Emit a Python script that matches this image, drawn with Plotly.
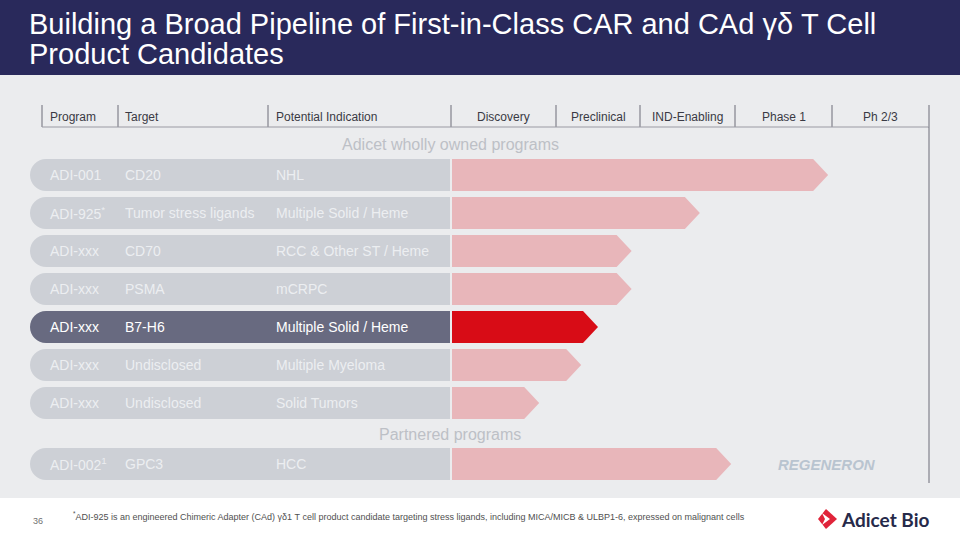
import numpy as np
import plotly.graph_objects as go

# ---------------- data ----------------
title_lines = ["Building a Broad Pipeline of First-in-Class CAR and CAd γδ T Cell",
               "Product Candidates"]
header_left = ["Program", "Target", "Potential Indication"]
stages = ["Discovery", "Preclinical", "IND-Enabling", "Phase 1", "Ph 2/3"]

programs = ["ADI-001", "ADI-925<sup>*</sup>", "ADI-xxx", "ADI-xxx", "ADI-xxx", "ADI-xxx", "ADI-xxx"]
targets = ["CD20", "Tumor stress ligands", "CD70", "PSMA", "B7-H6", "Undisclosed", "Undisclosed"]
indications = ["NHL", "Multiple Solid / Heme", "RCC & Other ST / Heme", "mCRPC",
               "Multiple Solid / Heme", "Multiple Myeloma", "Solid Tumors"]
progress = [3.96, 2.63, 1.90, 1.90, 1.50, 1.30, 0.84]   # in stage units (0 = start of Discovery)
highlight = [False, False, False, False, True, False, False]

partner_program = ["ADI-002<sup>1</sup>"]
partner_target = ["GPC3"]
partner_indication = ["HCC"]
partner_progress = [2.96]
partner_name = ["REGENERON"]

section_labels = ["Adicet wholly owned programs", "Partnered programs"]
footnote = ("<sup>*</sup>ADI-925 is an engineered Chimeric Adapter (CAd) γδ1 T cell product candidate "
            "targeting stress ligands, including MICA/MICB & ULBP1-6, expressed on malignant cells")
page_number = "36"
logo_text = "Adicet Bio"

# ---------------- layout constants ----------------
W, H = 960, 540
FONT = "Liberation Sans, Arial, sans-serif"
NAVY = "#29295b"
BG = "#ebecee"
PILL = "#cdd0d6"
PILL_HI = "#686a80"
PILL_TXT = "#eceef1"
ARROW = "#e8b6ba"
ARROW_HI = "#d80c16"

col_lines_x = [42, 118, 268, 451, 556, 640, 735, 832, 929]
stage_bounds = col_lines_x[3:]          # x of stage 0..5
text_x = [48, 123, 274]
row_y0 = 175
row_dy = 38
row_h = 32
pill_x0, pill_x1 = 30, 450
arrow_x0 = 452
tip_len = 15


def stage_to_x(s):
    return float(np.interp(s, np.arange(len(stage_bounds)), stage_bounds))


def pill_path(x0, x1, yc, h):
    r = h / 2
    k = 0.5523 * r
    cx = x0 + r
    return (f"M {x1},{yc - r} L {cx},{yc - r} "
            f"C {cx - k},{yc - r} {x0},{yc - k} {x0},{yc} "
            f"C {x0},{yc + k} {cx - k},{yc + r} {cx},{yc + r} "
            f"L {x1},{yc + r} Z")


def arrow_path(x0, xt, yc, h):
    r = h / 2
    return (f"M {x0},{yc - r} L {xt - tip_len:.1f},{yc - r} L {xt:.1f},{yc} "
            f"L {xt - tip_len:.1f},{yc + r} L {x0},{yc + r} Z")


shapes = []
ann = []

# backgrounds
shapes.append(dict(type="rect", x0=0, x1=W, y0=75, y1=498, fillcolor=BG, line_width=0, layer="below"))
shapes.append(dict(type="rect", x0=0, x1=W, y0=0, y1=75, fillcolor=NAVY, line_width=0, layer="below"))

# title
for i, t in enumerate(title_lines):
    ann.append(dict(x=27, y=24 + 30 * i, text=t, xanchor="left", yanchor="middle",
                    font=dict(family=FONT, size=29, color="white")))

# header lines
for x in col_lines_x:
    shapes.append(dict(type="line", x0=x, x1=x, y0=105, y1=127,
                       line=dict(color="#6d6d78", width=1)))
shapes.append(dict(type="line", x0=42, x1=929, y0=127, y1=127, line=dict(color="#9a9aa3", width=1)))
shapes.append(dict(type="line", x0=929, x1=929, y0=127, y1=483, line=dict(color="#6d6d78", width=1)))

for x, t in zip(text_x, header_left):
    ann.append(dict(x=x, y=117, text=t, xanchor="left", yanchor="middle",
                    font=dict(family=FONT, size=12, color="#3a3a44")))
for i, t in enumerate(stages):
    ann.append(dict(x=(stage_bounds[i] + stage_bounds[i + 1]) / 2, y=117, text=t,
                    xanchor="center", yanchor="middle",
                    font=dict(family=FONT, size=12, color="#3a3a44")))

# section labels
for y, t in zip([144, 434], section_labels):
    ann.append(dict(x=450, y=y, text=t, xanchor="center", yanchor="middle",
                    font=dict(family=FONT, size=16, color="#bdc0c6")))


def add_row(yc, prog, tgt, ind, pr, hi):
    shapes.append(dict(type="path", path=pill_path(pill_x0, pill_x1, yc, row_h),
                       fillcolor=PILL_HI if hi else PILL, line_width=0))
    shapes.append(dict(type="path", path=arrow_path(arrow_x0, stage_to_x(pr), yc, row_h),
                       fillcolor=ARROW_HI if hi else ARROW, line_width=0))
    for x, t in zip(text_x, [prog, tgt, ind]):
        ann.append(dict(x=x, y=yc, text=t, xanchor="left", yanchor="middle",
                        font=dict(family=FONT, size=14, color="white" if hi else PILL_TXT)))


for i in range(len(programs)):
    add_row(row_y0 + row_dy * i, programs[i], targets[i], indications[i], progress[i], highlight[i])

for j in range(len(partner_program)):
    yc = 464 + row_dy * j
    add_row(yc, partner_program[j], partner_target[j], partner_indication[j], partner_progress[j], False)
    ann.append(dict(x=827, y=yc, text=f"<b><i>{partner_name[j]}</i></b>", xanchor="center",
                    yanchor="middle", font=dict(family=FONT, size=15, color="#b9c4d0")))

# footer
ann.append(dict(x=38, y=521, text=page_number, xanchor="center", yanchor="middle",
                font=dict(family=FONT, size=9, color="#707070")))
ann.append(dict(x=71, y=516, text=footnote, xanchor="left", yanchor="middle",
                font=dict(family=FONT, size=9, color="#505050")))
ann.append(dict(x=839, y=519, text=f"<b>{logo_text}</b>", xanchor="left", yanchor="middle",
                font=dict(family="Lato, Liberation Sans, sans-serif", size=19, color="#262a4a")))
# logo mark
shapes.append(dict(type="path",
                   path="M 818,519 L 826,509 L 837,519 L 826,529 Z",
                   fillcolor="#e0243a", line_width=0))
shapes.append(dict(type="path",
                   path="M 822,513 L 830,519 L 822,525 L 825,519 Z",
                   fillcolor="white", line_width=0))

fig = go.Figure()
fig.add_trace(go.Scatter(x=[0, W], y=[0, H], mode="markers", marker=dict(opacity=0),
                         hoverinfo="skip", showlegend=False))
fig.update_layout(
    width=W, height=H, margin=dict(l=0, r=0, t=0, b=0),
    paper_bgcolor="white", plot_bgcolor="white",
    xaxis=dict(range=[0, W], visible=False, fixedrange=True),
    yaxis=dict(range=[H, 0], visible=False, fixedrange=True),
    shapes=shapes, annotations=[dict(a, showarrow=False, xref="x", yref="y") for a in ann],
    showlegend=False,
)
fig.write_html("out.html", config={"displayModeBar": False},
               post_script="document.body.style.margin='0';document.body.style.overflow='hidden';")
